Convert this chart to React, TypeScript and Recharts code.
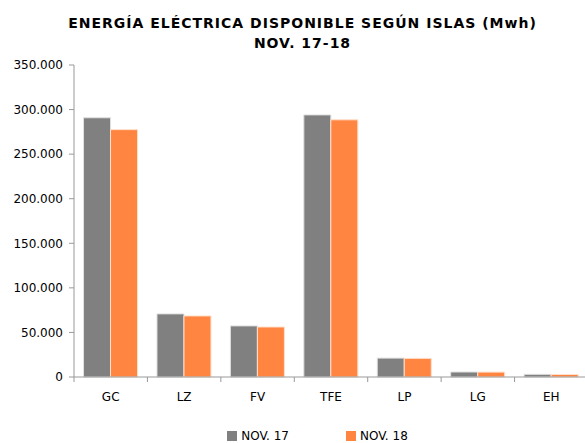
import React from 'react';
import { BarChart, Bar, XAxis, YAxis } from 'recharts';

const categories = ['GC', 'LZ', 'FV', 'TFE', 'LP', 'LG', 'EH'];
const nov17 = [290800, 70800, 57300, 294000, 21200, 5600, 3000];
const nov18 = [277500, 68500, 56100, 288500, 20900, 5500, 2800];
const yTicks = [0, 50000, 100000, 150000, 200000, 250000, 300000, 350000];
const titleLines = ['ENERGÍA ELÉCTRICA DISPONIBLE SEGÚN ISLAS (Mwh)', 'NOV. 17-18'];
const seriesNames = ['NOV. 17', 'NOV. 18'];
const seriesColors = ['#808080', '#FF8540'];

const data = categories.map((c, i) => ({ name: c, nov17: nov17[i], nov18: nov18[i] }));

const fmt = (v: number) => (v === 0 ? '0' : v.toLocaleString('de-DE'));

const font = '"DejaVu Sans", Verdana, sans-serif';
const TM = 15;

const XTick = (props: any) => {
  const { x, y, payload, width, index } = props;
  const bw = width / categories.length;
  const left = x - bw / 2;
  const ay = y - TM;
  const isLast = index === categories.length - 1;
  return (
    <g>
      <line x1={left} x2={left} y1={ay} y2={ay + 5} stroke="#999" />
      {isLast && <line x1={x + bw / 2} x2={x + bw / 2} y1={ay} y2={ay + 5} stroke="#999" />}
      <text x={x} y={y} dy="0.71em" textAnchor="middle" fontSize={12} fontFamily={font} fill="#000">
        {payload.value}
      </text>
    </g>
  );
};

export default function App() {
  return (
    <div style={{ position: 'absolute', left: 0, top: 0, width: 585, height: 443, background: '#fff', fontFamily: font, overflow: 'hidden' }}>
      <div style={{ position: 'absolute', top: 13, left: 10, width: 585, textAlign: 'center', fontWeight: 'bold', fontSize: 14, letterSpacing: 1, lineHeight: '20px', color: '#000' }}>
        {titleLines.map((t) => (
          <div key={t}>{t}</div>
        ))}
      </div>
      <BarChart
        width={588}
        height={443}
        data={data}
        margin={{ top: 65, right: 0, left: 0, bottom: 36 }}
        barCategoryGap="13%"
        barGap={0}
      >
        <XAxis
          dataKey="name"
          height={30}
          tickLine={false}
          tickSize={0}
          tickMargin={TM}
          axisLine={{ stroke: '#999' }}
          tick={<XTick />}
        />
        <YAxis
          width={74}
          domain={[0, 350000]}
          ticks={yTicks}
          tickFormatter={fmt}
          tickSize={5}
          tickMargin={6}
          interval={0}
          axisLine={{ stroke: '#999' }}
          tickLine={{ stroke: '#999' }}
          tick={{ fontSize: 12, fill: '#000', fontFamily: font }}
        />
        <Bar dataKey="nov17" name={seriesNames[0]} fill={seriesColors[0]} stroke="#e0e0e0" strokeWidth={1} isAnimationActive={false} />
        <Bar dataKey="nov18" name={seriesNames[1]} fill={seriesColors[1]} stroke="#ffe0cc" strokeWidth={1} isAnimationActive={false} />
      </BarChart>
      <div style={{ position: 'absolute', top: 429, left: 25, width: 585, display: 'flex', justifyContent: 'center', fontSize: 12, fontFamily: font, color: '#000', lineHeight: '14px' }}>
        {seriesNames.map((n, i) => (
          <div key={n} style={{ display: 'flex', alignItems: 'center', marginLeft: i ? 57 : 0 }}>
            <span style={{ display: 'inline-block', width: 10, height: 10, background: seriesColors[i], marginRight: 4 }} />
            <span>{n}</span>
          </div>
        ))}
      </div>
    </div>
  );
}
